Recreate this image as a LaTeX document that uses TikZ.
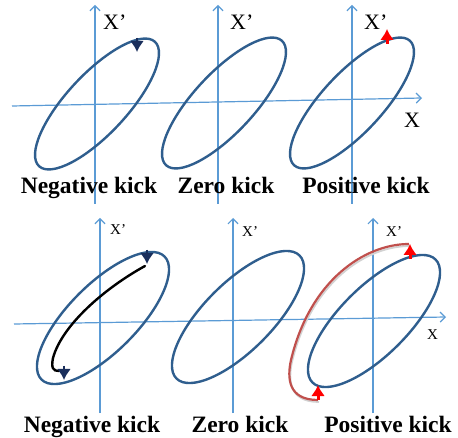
\documentclass[tikz,border=0pt]{standalone}
\usepackage{fontspec}
\setmainfont{Liberation Serif}
\usepackage{tikz}
\usetikzlibrary{arrows.meta}
\definecolor{axisblue}{HTML}{5B9BD5}
\definecolor{orbitblue}{HTML}{2F5E8E}
\definecolor{kicknavy}{HTML}{1A2F5C}
\definecolor{kickred}{HTML}{FF0000}
\definecolor{pathred}{HTML}{C0504D}

\begin{document}
\begin{tikzpicture}[x=1pt, y=-1pt,
		axis/.style={draw=axisblue, line width=1.2pt, -{Straight Barb[length=5pt,width=10pt]}},
		orbit/.style={draw=orbitblue, line width=2.4pt},
		navykick/.style={draw=kicknavy, fill=kicknavy, line width=2.6pt, -{Latex[length=11pt,width=14pt]}},
		redkick/.style={draw=kickred, fill=kickred, line width=3pt, -{Latex[length=11pt,width=14pt]}},
		caption/.style={font=\fontsize{23.5}{24}\selectfont\bfseries, anchor=base, inner sep=0pt},
		biglabel/.style={font=\fontsize{22}{22}\selectfont, anchor=base west, inner sep=0pt},
		smalllabel/.style={font=\fontsize{15}{15}\selectfont, anchor=base west, inner sep=0pt}]
	\useasboundingbox (0,0) rectangle (458,438);

	% upper row
	\coordinate (tx0) at (12,106);
	\coordinate (tx1) at (422,98);
	\draw[axis] (tx0) -- (tx1);
	\foreach \x in {95,218,352}
		\draw[axis] (\x,204) -- (\x,5);
	\foreach \cx/\cy in {97/104,224/103,352/103}
		\draw[orbit, shift={(\cx,\cy)}, rotate=47] (0,0) ellipse [x radius=85pt, y radius=30pt];
	\draw[navykick] (137,38) -- (137,52);
	\draw[redkick] (387,44) -- (387,29);

	\node[biglabel] (xpa) at (103,30) {X’};
	\node[biglabel] (xpb) at (230,30) {X’};
	\node[biglabel] (xpc) at (364,30) {X’};
	\node[biglabel] (xtop) at (404,128) {X};
	\node[caption] (negtop) at (89,194) {Negative kick};
	\node[caption] (zerotop) at (226,194) {Zero kick};
	\node[caption] (postop) at (366,194) {Positive kick};

	% lower row
	\coordinate (bx0) at (14,324);
	\coordinate (bx1) at (446,317);
	\draw[axis] (bx0) -- (bx1);
	\foreach \x in {100,233,373}
		\draw[axis] (\x,413) -- (\x,218);
	\foreach \cx/\cy in {103/318,238/317,374/321}
		\draw[orbit, shift={(\cx,\cy)}, rotate=45] (0,0) ellipse [x radius=87pt, y radius=34pt];

	% negative kick: path along the orbit
	\draw[black, line width=2.4pt, line cap=round] (145,266) .. controls (105,288) and (62,325) .. (53,358)
		.. controls (51,368) and (53,371) .. (59,371);
	\draw[navykick] (147,250) -- (147,264);
	\draw[navykick] (64,366) -- (64,380);

	% positive kick: path outside the orbit
	\draw[gray!35, line width=1.8pt] (410,246) .. controls (366,246) and (311,282) .. (292,362)
		.. controls (288,380) and (289,402) .. (319,402);
	\draw[pathred, line width=2.2pt] (409,244) .. controls (365,244) and (310,280) .. (291,360)
		.. controls (287,378) and (288,400) .. (318,400);
	\draw[redkick] (410,259) -- (410,244);
	\draw[redkick] (318,400) -- (318,385);

	\node[smalllabel] (xpd) at (110,235) {X’};
	\node[smalllabel] (xpe) at (242,237) {X’};
	\node[smalllabel] (xpf) at (386,237) {X’};
	\node[smalllabel] (xbot) at (427,340) {X};
	\node[caption] (negbot) at (92,432) {Negative kick};
	\node[caption] (zerobot) at (240,432) {Zero kick};
	\node[caption] (posbot) at (388,432) {Positive kick};
\end{tikzpicture}
\end{document}
